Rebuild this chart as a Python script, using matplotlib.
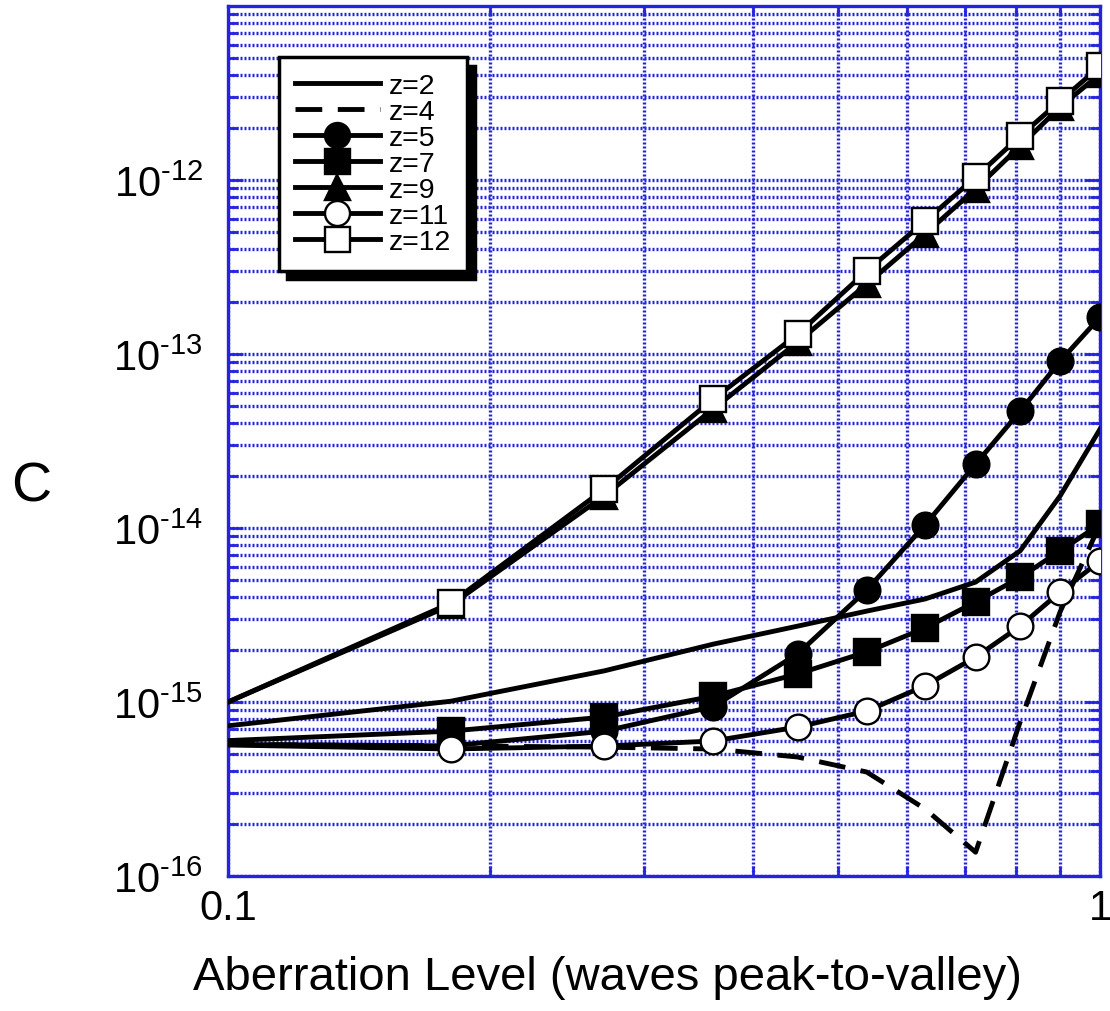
import matplotlib

matplotlib.use("Agg")
import matplotlib.pyplot as plt
import numpy as np

# datos (aberracion en ondas pico-valle)
nivel = [0.10, 0.18, 0.27, 0.36, 0.45, 0.54, 0.63, 0.72, 0.81, 0.90, 1.00]

c_z2 = [7.3e-16, 1.01e-15, 1.51e-15, 2.15e-15, 2.73e-15, 3.33e-15, 3.91e-15,
        4.89e-15, 7.4e-15, 1.53e-14, 3.7e-14]
c_z4 = [5.7e-16, 5.6e-16, 5.5e-16, 5.37e-16, 4.83e-16, 3.96e-16, 2.43e-16,
        1.37e-16, 7.7e-16, 3.3e-15, 1.05e-14]
c_z5 = [5.7e-16, 5.6e-16, 6.8e-16, 9.4e-16, 1.89e-15, 4.4e-15, 1.04e-14,
        2.33e-14, 4.7e-14, 9.1e-14, 1.63e-13]
c_z7 = [6.0e-16, 6.8e-16, 8.2e-16, 1.08e-15, 1.45e-15, 1.94e-15, 2.66e-15,
        3.76e-15, 5.2e-15, 7.4e-15, 1.05e-14]
c_z9 = [1.0e-15, 3.6e-15, 1.53e-14, 4.83e-14, 1.17e-13, 2.52e-13, 4.9e-13,
        8.9e-13, 1.57e-12, 2.63e-12, 4.07e-12]
c_z11 = [5.66e-16, 5.37e-16, 5.58e-16, 5.97e-16, 7.18e-16, 8.87e-16, 1.24e-15,
         1.81e-15, 2.73e-15, 4.29e-15, 6.46e-15]
c_z12 = [1.0e-15, 3.7e-15, 1.67e-14, 5.5e-14, 1.3e-13, 3.0e-13, 5.8e-13,
         1.04e-12, 1.79e-12, 2.85e-12, 4.5e-12]

series = [
    ("z=2", c_z2, "-", None, "black"),
    ("z=4", c_z4, (0, (5.5, 3.2)), None, "black"),
    ("z=5", c_z5, "-", "o", "black"),
    ("z=7", c_z7, "-", "s", "black"),
    ("z=9", c_z9, "-", "^", "black"),
    ("z=11", c_z11, "-", "o", "white"),
    ("z=12", c_z12, "-", "s", "white"),
]

y_ticks = [1e-16, 1e-15, 1e-14, 1e-13, 1e-12]
y_exponentes = ["16", "15", "14", "13", "12"]
x_ticks = [0.1, 1.0]
x_ticklabels = ["0.1", "1"]

plt.rcParams["font.family"] = ["Liberation Sans", "DejaVu Sans"]
plt.rcParams["mathtext.fontset"] = "custom"
plt.rcParams["mathtext.rm"] = "Liberation Sans"
plt.rcParams["axes.unicode_minus"] = False

azul = "#2424dc"

fig = plt.figure(figsize=(11.1, 10.12), dpi=100)
ax = fig.add_axes([0.2054, 0.1334, 0.7856, 0.8596])

for etiqueta, valores, estilo, marcador, relleno in series:
    ax.plot(
        nivel,
        valores,
        linestyle=estilo,
        color="black",
        linewidth=3.5,
        marker=marcador,
        markersize=18.5,
        markerfacecolor=relleno,
        markeredgecolor="black",
        markeredgewidth=1.7,
        markevery=list(range(1, len(nivel))),
        label=etiqueta,
        zorder=3,
    )

ax.set_xscale("log")
ax.set_yscale("log")
ax.set_xlim(0.1, 1.0)
ax.set_ylim(1e-16, 1e-11)

# guion corto en el exponente, como en el original
etiquetas_y = [r"$\mathregular{10^{\text{-}%s}}$" % e for e in y_exponentes]
ax.set_yticks(y_ticks, etiquetas_y)
ax.set_xticks(x_ticks, x_ticklabels)
ax.xaxis.set_minor_formatter(matplotlib.ticker.NullFormatter())
ax.yaxis.set_minor_formatter(matplotlib.ticker.NullFormatter())

ax.grid(True, which="both", color=azul, linestyle=(0, (0.6, 0.6)), linewidth=2.4, zorder=1)
ax.set_axisbelow(True)

for lado in ax.spines.values():
    lado.set_color(azul)
    lado.set_linewidth(2.4)

ax.tick_params(which="both", direction="in", color=azul, top=True, right=True, width=2)
ax.tick_params(which="major", length=11, labelsize=30)
ax.tick_params(which="minor", length=7)
ax.tick_params(axis="y", which="major", pad=18)
ax.tick_params(axis="x", which="major", pad=9)

ax.set_xlabel("Aberration Level (waves peak-to-valley)", fontsize=34, va="center")
ax.xaxis.set_label_coords(0.435, -0.116)
ax.set_ylabel("C", fontsize=40, rotation=0, va="center", ha="center")
ax.yaxis.set_label_coords(-0.226, 0.448)

leg = ax.legend(
    loc="upper left",
    bbox_to_anchor=(0.0585, 0.941),
    borderaxespad=0,
    fontsize=20.5,
    handlelength=3.0,
    handletextpad=0.3,
    labelspacing=0.0,
    borderpad=0.55,
    fancybox=False,
    framealpha=1,
    edgecolor="black",
    shadow={"ox": 6, "oy": -6, "color": "black", "alpha": 1},
)
leg.get_frame().set_linewidth(2.5)
for linea in leg.get_lines():
    linea.set_markersize(18)

plt.savefig("out.png", dpi=100)
plt.close()
